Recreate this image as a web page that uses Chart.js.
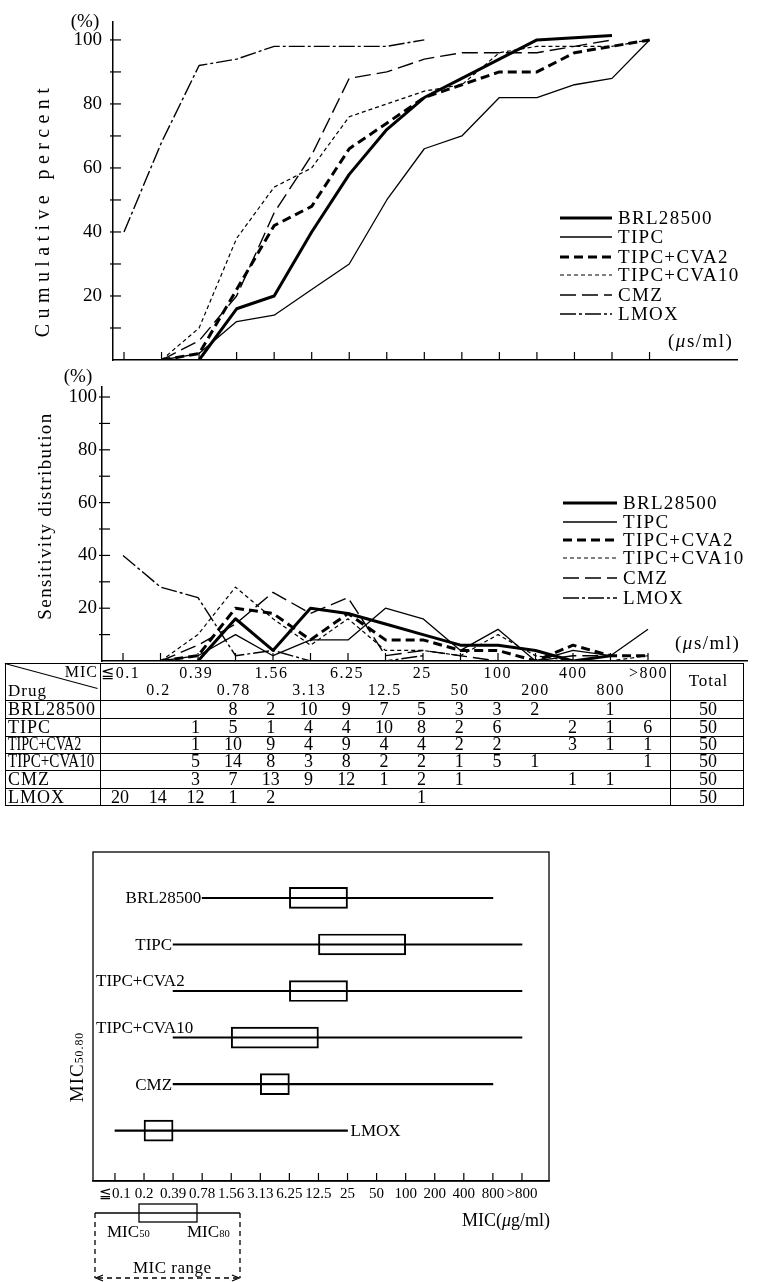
<!DOCTYPE html>
<html><head><meta charset="utf-8">
<script src="https://cdn.jsdelivr.net/npm/chart.js@4.4.1/dist/chart.umd.min.js"></script>
<style>
html,body{margin:0;padding:0;background:#fff}
body{width:761px;height:1282px;position:relative;overflow:hidden;font-family:"Liberation Serif","Times New Roman",serif;color:#000}
canvas{position:absolute;left:0}
.t{position:absolute;white-space:nowrap;line-height:1}
.ln{position:absolute;background:#000}
.sb{font-size:0.62em}
</style></head><body>
<canvas id="c1" width="761" height="395" style="top:-10px"></canvas>
<canvas id="c2" width="761" height="331" style="top:355px"></canvas>
<canvas id="c3" width="761" height="462" style="top:820px"></canvas>
<script>
// ---------------- DATA ----------------
const micLabels = ['≦0.1','0.2','0.39','0.78','1.56','3.13','6.25','12.5','25','50','100','200','400','800','>800'];
const drugs = ['BRL28500','TIPC','TIPC+CVA2','TIPC+CVA10','CMZ','LMOX'];

// Cumulative percent (top panel)
const cumBRL   = [null,null,0,16,20,40,58,72,82,88,94,100,100.7,101.4,null];
const cumTIPC  = [null,0,2,12,14,22,30,50,66,70,82,82,86,88,100];
const cumCVA2  = [null,0,2,22,42,48,66,74,82,86,90,90,96,98,100];
const cumCVA10 = [null,0,10,38,54,60,76,80,84,86,96,98,98,98,100];
const cumCMZ   = [null,0,6,20,46,64,88,90,94,96,96,96,98,100,null];
const cumLMOX  = [40,68,92,94,98,98,98,98,100,null,null,null,null,null,null];

// Sensitivity distribution % (middle panel)
const distBRL   = [null,null,0,16,4,20,18,14,10,6,6,4,0,2,null];
const distTIPC  = [null,0,2,10,2,8,8,20,16,4,12,0,4,2,12];
const distCVA2  = [null,0,2,20,18,8,18,8,8,4,4,0,6,2,2];
const distCVA10 = [null,0,10,28,16,6,16,4,4,2,10,2,0,0,2];
const distCMZ   = [null,0,6,14,26,18,24,2,4,2,0,0,2,2,null];
const distLMOX  = [40,28,24,2,4,0,0,0,2,null,null,null,null,null,null];

// Table counts
const cntBRL   = [null,null,null,8,2,10,9,7,5,3,3,2,null,1,null];
const cntTIPC  = [null,null,1,5,1,4,4,10,8,2,6,null,2,1,6];
const cntCVA2  = [null,null,1,10,9,4,9,4,4,2,2,null,3,1,1];
const cntCVA10 = [null,null,5,14,8,3,8,2,2,1,5,1,null,null,1];
const cntCMZ   = [null,null,3,7,13,9,12,1,2,1,null,null,1,1,null];
const cntLMOX  = [20,14,12,1,2,null,null,null,1,null,null,null,null,null,null];
const totals   = [50,50,50,50,50,50];

// MIC range / MIC50 / MIC80 (indices into micLabels)
const rangeLow  = [3,2,2,2,2,0];
const rangeHigh = [13,14,14,14,13,8];
const mic50     = [6,7,6,4,5,1];
const mic80     = [8,10,8,7,6,2];

const pctTicks  = [0,10,20,30,40,50,60,70,80,90,100];
const pctLabels = ['','','20','','40','','60','','80','','100'];

// ---------------- STYLE ----------------
Chart.defaults.font.family = '"Liberation Serif","Times New Roman",serif';
Chart.defaults.color = '#000';
const lineStyles = [
  {w:3,   dash:[]},
  {w:1.3, dash:[]},
  {w:3,   dash:[9,5]},
  {w:1.2, dash:[4,3]},
  {w:1.4, dash:[16,6]},
  {w:1.4, dash:[16,3,3,3]}
];

function makeTicks(xLen, yLen, yOut){
  return {id:'inTicks', afterDatasetsDraw(chart){
    const ctx = chart.ctx, a = chart.chartArea;
    ctx.save(); ctx.strokeStyle='#000'; ctx.lineWidth=1.2; ctx.setLineDash([]);
    if (xLen) chart.scales.x.ticks.forEach(t=>{const p=chart.scales.x.getPixelForValue(t.value);
      ctx.beginPath(); ctx.moveTo(p,a.bottom); ctx.lineTo(p,a.bottom-xLen); ctx.stroke();});
    if (yLen) chart.scales.y.ticks.forEach(t=>{ if(t.value===0) return; const p=chart.scales.y.getPixelForValue(t.value);
      ctx.beginPath(); ctx.moveTo(a.left-(yOut||0),p); ctx.lineTo(a.left+yLen,p); ctx.stroke();});
    ctx.restore();
  }};
}
function makeLegend(x1,x2,ys){
  return {id:'lineLegend', afterDraw(chart){
    const ctx=chart.ctx; ctx.save(); ctx.strokeStyle='#000';
    chart.data.datasets.forEach((ds,k)=>{ctx.lineWidth=ds.borderWidth; ctx.setLineDash(ds.borderDash||[]);
      ctx.beginPath(); ctx.moveTo(x1,ys[k]); ctx.lineTo(x2,ys[k]); ctx.stroke();});
    ctx.restore();
  }};
}
function makeLine(id, series, c){
  return new Chart(document.getElementById(id), {
    type:'line',
    data:{datasets: series.map((s,k)=>({
      label:drugs[k], data:s.map((v,i)=>({x:i,y:v})),
      borderColor:'#000', borderWidth:lineStyles[k].w, borderDash:lineStyles[k].dash,
      pointRadius:0, tension:0, fill:false, spanGaps:false, borderCapStyle:'butt', borderJoinStyle:'round'
    }))},
    options:{
      responsive:false, animation:false, events:[],
      layout:{padding:{left:0, top:c.padTop, right:c.padRight, bottom:0}},
      plugins:{legend:{display:false}, tooltip:{enabled:false}},
      scales:{
        x:{type:'linear', min:c.xmin, max:c.xmax, grid:{display:false,drawTicks:false},
           border:{display:true,color:'#000',width:1.5}, ticks:{display:false},
           afterBuildTicks:s=>{s.ticks=micLabels.map((_,i)=>({value:i}));}, afterFit:s=>{s.height=c.xh;}},
        y:{type:'linear', min:0, max:c.ymax, grid:{display:false,drawTicks:false},
           border:{display:true,color:'#000',width:1.5},
           ticks:{autoSkip:false, padding:c.ypad, font:{size:19}, callback:(v,i)=>pctLabels[i]},
           afterBuildTicks:s=>{s.ticks=pctTicks.map(v=>({value:v}));}, afterFit:s=>{s.width=c.left;}}
      }
    },
    plugins:[makeTicks(8,8,3), makeLegend(c.lx1,c.lx2,c.ly)]
  });
}

makeLine('c1', [cumBRL,cumTIPC,cumCVA2,cumCVA10,cumCMZ,cumLMOX],
  {padTop:32, padRight:24, xh:25, left:113, ypad:11, xmin:-0.293, xmax:16.33, ymax:105.6,
   lx1:560, lx2:612, ly:[228,247,267,285,305,324]});
makeLine('c2', [distBRL,distTIPC,distCVA2,distCVA10,distCMZ,distLMOX],
  {padTop:32, padRight:14, xh:25, left:102, ypad:5, xmin:-0.56, xmax:16.64, ymax:103.8,
   lx1:563, lx2:617, ly:[148,167,185,203,223,243]});

// bottom chart
const frame = {id:'frame', afterDraw(chart){
  const ctx=chart.ctx, a=chart.chartArea; ctx.save(); ctx.strokeStyle='#000'; ctx.lineWidth=1.3; ctx.setLineDash([]);
  ctx.strokeRect(a.left, a.top, a.right-a.left, a.bottom-a.top); ctx.restore();
}};
const micLegend = {id:'micLegend', afterDraw(chart){
  const ctx=chart.ctx; ctx.save(); ctx.strokeStyle='#000'; ctx.lineWidth=1.3;
  ctx.setLineDash([]);
  ctx.beginPath(); ctx.moveTo(95,393); ctx.lineTo(240,393); ctx.stroke();
  ctx.strokeRect(139,384,58,18);
  ctx.setLineDash([5,4]);
  ctx.beginPath(); ctx.moveTo(95,393); ctx.lineTo(95,458); ctx.stroke();
  ctx.beginPath(); ctx.moveTo(240,393); ctx.lineTo(240,458); ctx.stroke();
  ctx.beginPath(); ctx.moveTo(98,458); ctx.lineTo(237,458); ctx.stroke();
  ctx.setLineDash([]);
  ctx.beginPath(); ctx.moveTo(103,455); ctx.lineTo(96,458); ctx.lineTo(103,461); ctx.stroke();
  ctx.beginPath(); ctx.moveTo(232,455); ctx.lineTo(239,458); ctx.lineTo(232,461); ctx.stroke();
  ctx.restore();
}};
const boxChart = new Chart(document.getElementById('c3'), {
  type:'bar',
  data:{datasets:[
    {label:'MIC range', data:drugs.map((d,i)=>({y:i, x:[rangeLow[i], rangeHigh[i]]})),
     backgroundColor:'#000', borderWidth:0, barThickness:1.4, grouped:false},
    {label:'MIC50-MIC80', data:drugs.map((d,i)=>({y:i, x:[mic50[i], mic80[i]]})),
     backgroundColor:'rgba(0,0,0,0)', borderColor:'#000', borderWidth:1.3, borderSkipped:false, barThickness:21, grouped:false}
  ]},
  options:{indexAxis:'y', responsive:false, animation:false, events:[],
    layout:{padding:{left:93, top:32, right:212, bottom:0}},
    plugins:{legend:{display:false}, tooltip:{enabled:false}},
    scales:{
      x:{type:'linear', min:-0.755, max:14.93, grid:{display:false,drawTicks:false},
         border:{display:true,color:'#000',width:1.5},
         ticks:{autoSkip:false, maxRotation:0, minRotation:0, padding:4, font:{size:15}, callback:(v,i)=>micLabels[i]},
         afterBuildTicks:s=>{s.ticks=micLabels.map((_,i)=>({value:i}));}, afterFit:s=>{s.height=101;}},
      y:{type:'linear', display:false, reverse:true, min:-0.545, max:5.64}
    }
  },
  plugins:[makeTicks(8,0), frame, micLegend]
});

// ---------------- TEXT ----------------
function T(html, x, y, o){
  o=o||{}; const d=document.createElement('div'); d.className='t'; d.innerHTML=html;
  const size=o.size||16; d.style.fontSize=size+'px';
  if(o.ls) d.style.letterSpacing=o.ls+'px';
  if(o.rot){
    d.style.left=x+'px'; d.style.top=y+'px';
    d.style.transform='translate(-50%,-50%) rotate(-90deg)';
  } else {
    d.style.top=(y-size*0.506)+'px';
    let tr='';
    if(o.align==='r'){ d.style.right=(761-x-(o.ls||0))+'px'; }
    else if(o.align==='c'){ d.style.left=(x+(o.ls||0)/2)+'px'; tr='translateX(-50%) '; }
    else d.style.left=x+'px';
    if(o.sx){ tr+='scaleX('+o.sx+')'; d.style.transformOrigin='left center'; }
    if(tr) d.style.transform=tr;
  }
  document.body.appendChild(d); return d;
}
function L(x,y,w,h){const d=document.createElement('div'); d.className='ln';
  d.style.left=x+'px'; d.style.top=y+'px'; d.style.width=w+'px'; d.style.height=h+'px'; document.body.appendChild(d); return d;}

// top panel
T('(%)', 85, 21, {size:19, align:'c'});
T('Cumulative percent', 42, 210, {size:20, ls:5.4, rot:true});
T('(<i>μ</i>s/ml)', 668, 341, {size:19, ls:1.5});
drugs.forEach((d,k)=>T(d, 618, [218,237,257,275,295,314][k], {size:19, ls:1.3}));

// middle panel
T('(%)', 78, 376, {size:19, align:'c'});
T('Sensitivity distribution', 44, 516, {size:19, ls:1.4, rot:true});
T('(<i>μ</i>s/ml)', 675, 643, {size:19, ls:1.5});
drugs.forEach((d,k)=>T(d, 623, [503,522,540,558,578,598][k], {size:19, ls:1.3}));

// table
(function(){
  const box=document.createElement('div'); box.style.cssText='position:absolute;left:5px;top:663px;width:739px;height:143px;border:1.5px solid #000;box-sizing:border-box';
  document.body.appendChild(box);
  [700,718,736,753,770,788].forEach(y=>L(5,y,739,1));
  L(100,663,1,143); L(670,663,1,143);
  const dg=L(5,663,96.3,1); dg.style.transformOrigin='0 0'; dg.style.transform='rotate(15.05deg)';
  T('MIC', 97, 672, {size:16, ls:1, align:'r'});
  T('Drug', 8, 691, {size:17, ls:1});
  const colX=i=>120+37.7*i;
  micLabels.forEach((m,i)=>T(m.replace('>','&gt;'), colX(i), i%2===0?673:690, {size:16, ls:1.5, align:'c'}));
  T('Total', 708, 681, {size:17, ls:1, align:'c'});
  const rows=[cntBRL,cntTIPC,cntCVA2,cntCVA10,cntCMZ,cntLMOX];
  const rc=[709,727,744.5,761.5,779,797];
  const nameStyle=[{size:18,ls:1},{size:18,ls:1},{size:18,sx:0.78},{size:18,sx:0.84},{size:18,ls:1},{size:18,ls:1}];
  rows.forEach((r,k)=>{
    T(drugs[k], 8, rc[k], nameStyle[k]);
    r.forEach((v,i)=>{ if(v!==null) T(String(v), colX(i), rc[k], {size:18, align:'c'}); });
    T(String(totals[k]), 708, rc[k], {size:18, align:'c'});
  });
})();

// bottom panel labels
(function(){
  const bx=boxChart.scales.x, by=boxChart.scales.y;
  const place=['before','before','above','above','before','after'];
  drugs.forEach((d,i)=>{
    const yc=820+by.getPixelForValue(i);
    const xs=bx.getPixelForValue(rangeLow[i]), xe=bx.getPixelForValue(rangeHigh[i]);
    if(place[i]==='before') T(d, xs-1, yc, {size:17, align:'r'});
    else if(place[i]==='above') T(d, 96, yc-10, {size:17});
    else T(d, xe+3, yc, {size:17});
  });
  T('MIC(<i>μ</i>g/ml)', 462, 1220, {size:18});
  T('MIC<span class="sb">50.80</span>', 76, 1067, {size:19, ls:1, rot:true});
  T('MIC<span class="sb">50</span>', 107, 1232, {size:17});
  T('MIC<span class="sb">80</span>', 187, 1232, {size:17});
  T('MIC range', 133, 1268, {size:17, ls:0.5});
})();
</script></body></html>
